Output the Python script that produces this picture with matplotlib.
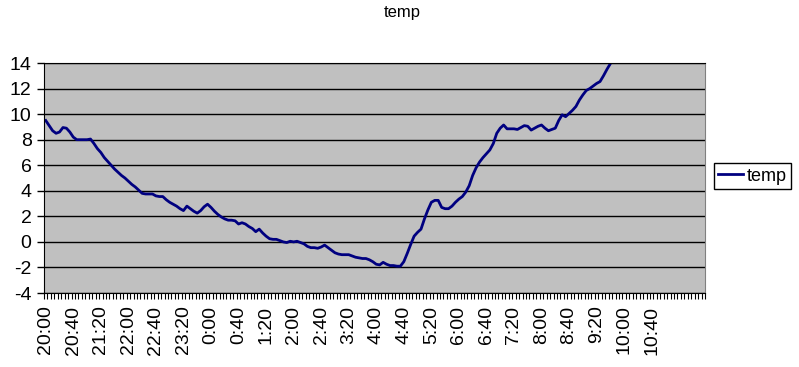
import matplotlib
matplotlib.use("Agg")
import matplotlib.pyplot as plt
import numpy as np
from matplotlib.ticker import FixedLocator, FixedFormatter

plt.rcParams['font.family'] = ['Liberation Sans', 'DejaVu Sans']
plt.rcParams['axes.unicode_minus'] = False

# temperature readings every 5 minutes starting at 20:00
start_hour = 20
step_min = 5
temp = [
    9.5, 9.1, 8.7, 8.5, 8.6, 8.95, 8.9, 8.6, 8.2, 8.0,
    8.0, 8.0, 8.0, 8.05, 7.7, 7.3, 7.0, 6.6, 6.3, 6.0,
    5.7, 5.45, 5.2, 5.0, 4.75, 4.5, 4.3, 4.05, 3.8, 3.75,
    3.75, 3.75, 3.6, 3.55, 3.55, 3.3, 3.1, 2.95, 2.8, 2.6,
    2.45, 2.8, 2.6, 2.4, 2.25, 2.45, 2.75, 2.95, 2.7, 2.4,
    2.15, 1.95, 1.8, 1.7, 1.7, 1.65, 1.4, 1.5, 1.4, 1.2,
    1.05, 0.8, 1.0, 0.7, 0.45, 0.25, 0.2, 0.2, 0.1, 0.0,
    -0.05, 0.05, 0.0, 0.05, -0.05, -0.15, -0.35, -0.45, -0.45, -0.5,
    -0.4, -0.25, -0.45, -0.65, -0.85, -0.95, -1.0, -1.0, -1.0, -1.1,
    -1.2, -1.25, -1.3, -1.3, -1.4, -1.55, -1.75, -1.8, -1.6, -1.75,
    -1.85, -1.85, -1.9, -1.9, -1.55, -0.9, -0.2, 0.45, 0.75, 1.0,
    1.8, 2.5, 3.1, 3.25, 3.25, 2.7, 2.6, 2.6, 2.8, 3.1,
    3.35, 3.55, 3.9, 4.4, 5.2, 5.8, 6.25, 6.6, 6.9, 7.2,
    7.7, 8.5, 8.9, 9.15, 8.85, 8.85, 8.85, 8.8, 8.95, 9.1,
    9.05, 8.75, 8.9, 9.05, 9.15, 8.9, 8.7, 8.8, 8.9, 9.5,
    9.95, 9.8, 10.05, 10.3, 10.6, 11.1, 11.5, 11.85, 12.0, 12.2,
    12.4, 12.55, 13.0, 13.5, 13.95, 14.4, 14.9,
]
n_categories = 192          # category slots on the axis, one per 5 minutes
label_every = 8             # a label every 40 minutes
last_label_min = 880        # 10:40 is the last label shown
y_ticks = [-4, -2, 0, 2, 4, 6, 8, 10, 12, 14]

minutes = np.arange(len(temp)) * step_min


def fmt_time(m):
    h = (start_hour + m // 60) % 24
    return "%d:%02d" % (h, m % 60)


label_pos = np.arange(0, last_label_min + 1, label_every * step_min)
labels = [fmt_time(int(m)) for m in label_pos]

fig = plt.figure(figsize=(7.99, 3.67), dpi=100)
ax = fig.add_axes([0.0551, 0.2016, 0.8273, 0.6267])
ax.set_facecolor("#c0c0c0")

ax.plot(minutes, temp, color="#000080", linewidth=2.0, label="temp",
        solid_joinstyle="round")

ax.set_xlim(-step_min / 2, n_categories * step_min - step_min / 2)
ax.set_ylim(-4, 14)
ax.set_yticks(y_ticks)
ax.yaxis.grid(True, color="black", linewidth=1.0)
ax.set_axisbelow(True)

ax.xaxis.set_major_locator(FixedLocator(label_pos))
ax.xaxis.set_major_formatter(FixedFormatter(labels))
ax.xaxis.set_minor_locator(FixedLocator(
    np.arange(n_categories + 1) * step_min - step_min / 2))
ax.tick_params(axis="x", which="major", length=0, pad=9,
               labelsize=14, labelrotation=90)
ax.tick_params(axis="x", which="minor", length=4, width=0.8, color="black")
ax.tick_params(axis="y", length=5, width=1.0, pad=4, labelsize=14)

ax.spines["left"].set_color("black")
ax.spines["bottom"].set_color("black")
ax.spines["top"].set_color("black")
ax.spines["right"].set_color("#808080")

fig.text(0.503, 0.967, "temp", fontsize=12, ha="center", va="center")

fig.legend(loc="center left", bbox_to_anchor=(0.893, 0.52), fontsize=13,
           frameon=True, fancybox=False, edgecolor="black", framealpha=1,
           handlelength=1.4, handletextpad=0.2, borderpad=0.25,
           borderaxespad=0)

fig.savefig("out.png", dpi=100)
